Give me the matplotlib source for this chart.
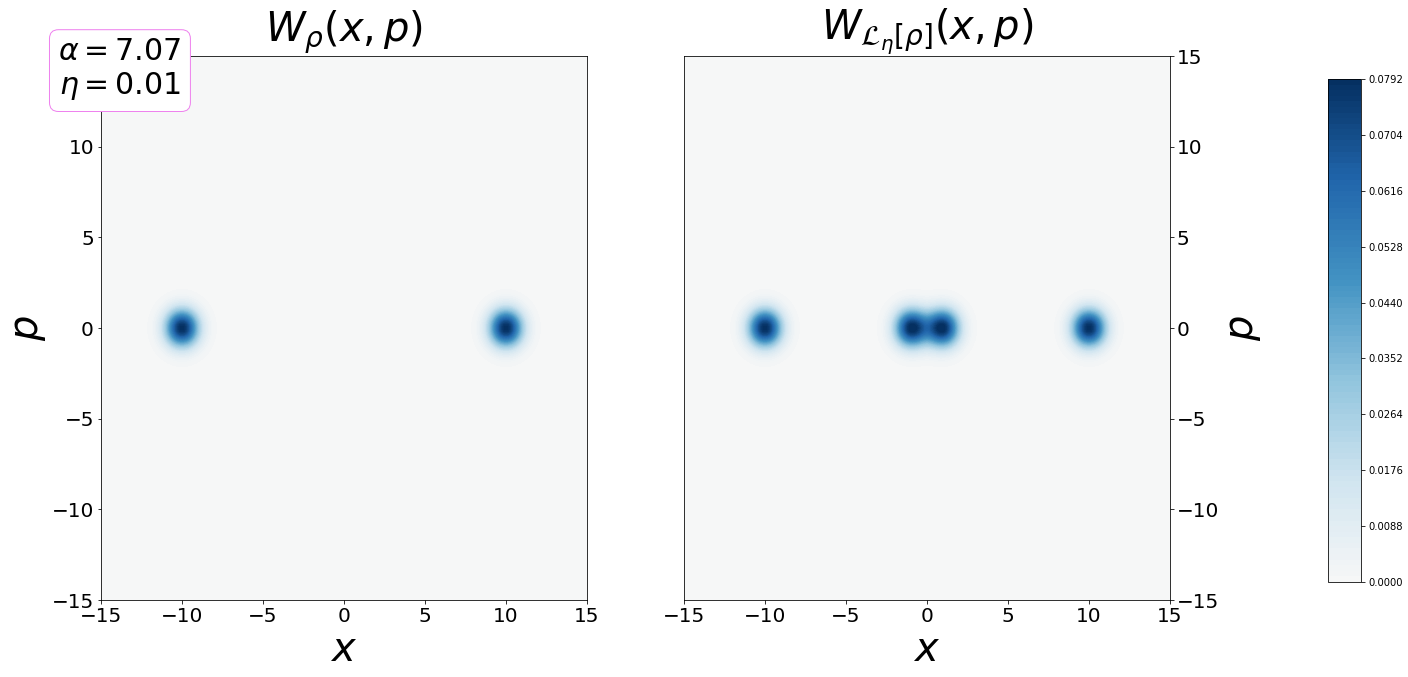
import numpy as np
import matplotlib
matplotlib.use("Agg")
import matplotlib.pyplot as plt
from matplotlib.colors import LinearSegmentedColormap

# ---- data ----
x_limits = [-15, 15]
p_limits = [-15, 15]
tick_values = [-15, -10, -5, 0, 5, 10, 15]

left_peak_x = [-10.0, 10.0]
left_peak_p = [0.0, 0.0]
left_peak_amp = [0.0792, 0.0792]

right_peak_x = [-10.0, -0.95, 0.95, 10.0]
right_peak_p = [0.0, 0.0, 0.0, 0.0]
right_peak_amp = [0.0792, 0.0792, 0.0792, 0.0792]

peak_variance = 0.5  # coherent-state Gaussian variance

cbar_max = 0.0792
cbar_ticks = [0.0000, 0.0088, 0.0176, 0.0264, 0.0352, 0.0440, 0.0528, 0.0616, 0.0704, 0.0792]

alpha_val = 7.07
eta_val = 0.01

# ---- grid ----
xs = np.linspace(x_limits[0], x_limits[1], 600)
ps = np.linspace(p_limits[0], p_limits[1], 600)
X, P = np.meshgrid(xs, ps)


def field(cx, cp, amps):
    Z = np.zeros_like(X)
    for x0, p0, a in zip(cx, cp, amps):
        Z += a * np.exp(-((X - x0) ** 2 + (P - p0) ** 2) / (2 * peak_variance))
    return np.clip(Z, 0, cbar_max)


Z_left = field(left_peak_x, left_peak_p, left_peak_amp)
Z_right = field(right_peak_x, right_peak_p, right_peak_amp)

base = plt.get_cmap("RdBu")
cmap = LinearSegmentedColormap.from_list("halfRdBu", base(np.linspace(0.5, 1.0, 256)))
levels = np.linspace(0, cbar_max, 91)

W, H = 1408, 677
dpi = 72
fig = plt.figure(figsize=(W / dpi, H / dpi), dpi=dpi)


def rect(l, t, r, b):
    return [l / W, 1 - b / H, (r - l) / W, (b - t) / H]


ax1 = fig.add_axes(rect(101, 56, 587, 600))
ax2 = fig.add_axes(rect(684, 56, 1170, 600))
cax = fig.add_axes(rect(1328, 79, 1361, 582))

cf1 = ax1.contourf(X, P, Z_left, levels=levels, cmap=cmap)
cf2 = ax2.contourf(X, P, Z_right, levels=levels, cmap=cmap)

for ax in (ax1, ax2):
    ax.set_xlim(x_limits)
    ax.set_ylim(p_limits)
    ax.set_xticks(tick_values)
    ax.set_yticks(tick_values)
    ax.tick_params(labelsize=20)
    ax.set_xlabel(r"$x$", fontsize=40)

ax1.set_ylabel(r"$p$", fontsize=40)
ax1.set_title(r"$W_\rho(x,p)$", fontsize=40, pad=6)
ax2.set_title(r"$W_{\mathcal{L}_\eta[\rho]}(x,p)$", fontsize=40, pad=6)
ax2.yaxis.tick_right()
ax2.yaxis.set_label_position("right")
ax2.set_ylabel(r"$p$", fontsize=40)

ax1.text(0.039, 0.975, r"$\alpha = %.2f$" % alpha_val + "\n" + r"$\eta = %.2f$" % eta_val,
         transform=ax1.transAxes, ha="center", va="center", fontsize=30,
         bbox=dict(boxstyle="round,pad=0.3", facecolor="white", edgecolor="violet"),
         zorder=10, clip_on=False)

cb = fig.colorbar(cf2, cax=cax, ticks=cbar_ticks)
cb.ax.set_yticklabels(["%.4f" % t for t in cbar_ticks])
cb.ax.tick_params(labelsize=10)

fig.savefig("out.png", dpi=dpi)
